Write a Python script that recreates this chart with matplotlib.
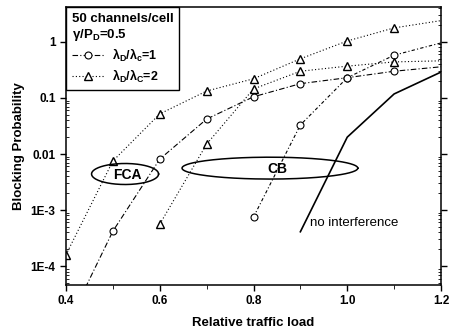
import matplotlib
matplotlib.use("Agg")
import matplotlib.pyplot as plt
from matplotlib.lines import Line2D
from matplotlib.ticker import FixedLocator, LogLocator, NullFormatter, MultipleLocator
import numpy as np

plt.rcParams['font.family'] = ['Liberation Sans', 'DejaVu Sans']

# data
load_fca = [0.4, 0.5, 0.6, 0.7, 0.8, 0.9, 1.0, 1.1, 1.2]
fca_ratio1 = [8e-6, 4.2e-4, 8.1e-3, 4.2e-2, 0.105, 0.18, 0.23, 0.30, 0.36]
fca_ratio2 = [1.6e-4, 7.5e-3, 5.2e-2, 0.133, 0.22, 0.50, 1.04, 1.78, 2.4]
load_cb1 = [0.8, 0.9, 1.0, 1.1, 1.2]
cb_ratio1 = [7.5e-4, 0.033, 0.23, 0.58, 0.96]
load_cb2 = [0.6, 0.7, 0.8, 0.9, 1.0, 1.1, 1.2]
cb_ratio2 = [5.6e-4, 0.015, 0.145, 0.30, 0.37, 0.44, 0.46]
load_noint = [0.9, 1.0, 1.1, 1.2]
noint = [4.1e-4, 0.020, 0.118, 0.29]
ytick_vals = [1e-4, 1e-3, 1e-2, 1e-1, 1]
ytick_labels = ['1E-4', '1E-3', '0.01', '0.1', '1']
xtick_vals = [0.4, 0.6, 0.8, 1.0, 1.2]
xtick_labels = ['0.4', '0.6', '0.8', '1.0', '1.2']

fig = plt.figure(figsize=(4.51, 3.31), dpi=100)
ax = fig.add_axes([66/451, 1-285/331, (441-66)/451, (285-7)/331])
ax.set_yscale('log')
ax.set_xlim(0.4, 1.2)
ax.set_ylim(4.6e-5, 4.2)

dashdot = (0, (5, 2, 1, 2))
dashdot2 = (0, (3, 2, 1, 2))
dotted = (0, (1, 2))
lw = 0.8
ms = 5
mk = dict(markerfacecolor='white', markeredgecolor='black', markeredgewidth=0.8, markersize=ms)
mkt = dict(mk, markersize=5.5, markeredgewidth=1.0)

ax.plot(load_fca, fca_ratio1, color='black', lw=lw, ls=dashdot, marker='o',
        markevery=list(range(1, len(load_fca) - 1)), **mk)
ax.plot(load_fca, fca_ratio2, color='black', lw=lw, ls=dotted, marker='^',
        markevery=list(range(0, len(load_fca) - 1)), **mkt)
ax.plot(load_cb1, cb_ratio1, color='black', lw=lw, ls=dashdot2, marker='o',
        markevery=list(range(0, len(load_cb1) - 1)), **mk)
ax.plot(load_cb2, cb_ratio2, color='black', lw=lw, ls=dotted, marker='^',
        markevery=list(range(0, len(load_cb2) - 1)), **mkt)
ax.plot(load_noint, noint, color='black', lw=1.2, ls='-')

def ellipse(xc, yc_log, w, h_dec):
    t = np.linspace(0, 2*np.pi, 200)
    xs = xc + w/2*np.cos(t)
    ys = 10**(yc_log + h_dec/2*np.sin(t))
    ax.plot(xs, ys, color='black', lw=1.1)

ellipse(0.526, np.log10(4.4e-3), 0.143, 0.375)
ellipse(0.835, np.log10(5.6e-3), 0.375, 0.39)
tfont = dict(fontsize=10, fontweight='bold', ha='center', va='center')
ax.text(0.530, 4.3e-3, 'FCA', **tfont)
ax.text(0.851, 5.4e-3, 'CB', **tfont)
ax.text(0.920, 5.8e-4, 'no interference', fontsize=9.5, ha='left', va='center')

ax.yaxis.set_major_locator(FixedLocator(ytick_vals))
ax.set_yticklabels(ytick_labels)
ax.yaxis.set_minor_locator(LogLocator(base=10, subs=np.arange(2, 10)))
ax.yaxis.set_minor_formatter(NullFormatter())
ax.set_xticks(xtick_vals)
ax.set_xticklabels(xtick_labels)
ax.xaxis.set_minor_locator(MultipleLocator(0.1))

ax.tick_params(axis='both', which='major', direction='out', length=4, width=1,
               labelsize=8.5)
ax.tick_params(axis='both', which='minor', direction='in', length=2.5, width=0.6)
ax.tick_params(axis='x', which='minor', direction='out', length=3)
ax.tick_params(axis='y', which='both', right=True)
for lab in ax.get_xticklabels() + ax.get_yticklabels():
    lab.set_fontweight('bold')
for s in ax.spines.values():
    s.set_linewidth(1.1)

ax.set_xlabel('Relative traffic load', fontsize=9.5, fontweight='bold', labelpad=7)
ax.set_ylabel('Blocking Probability', fontsize=9.5, fontweight='bold', labelpad=4)

handles = [
    Line2D([], [], color='black', lw=lw, ls=dashdot, marker='o', **mk),
    Line2D([], [], color='black', lw=lw, ls=dotted, marker='^', **mkt),
]
labels = [r'$\mathregular{\lambda_D/\lambda_c}$=1', r'$\mathregular{\lambda_D/\lambda_C}$=2']
leg = ax.legend(handles, labels, loc='upper left', borderaxespad=0,
                title='50 channels/cell\n' + r'$\mathregular{\gamma/P_D}$=0.5',
                alignment='left', fancybox=False, edgecolor='black',
                framealpha=1, fontsize=9, title_fontsize=9.5,
                handlelength=2.6, handletextpad=0.6, labelspacing=0.3,
                borderpad=0.45)
leg.get_frame().set_linewidth(1.0)
leg.get_title().set_fontweight('bold')
for t in leg.get_texts():
    t.set_fontweight('bold')

fig.savefig('out.png', dpi=100)
